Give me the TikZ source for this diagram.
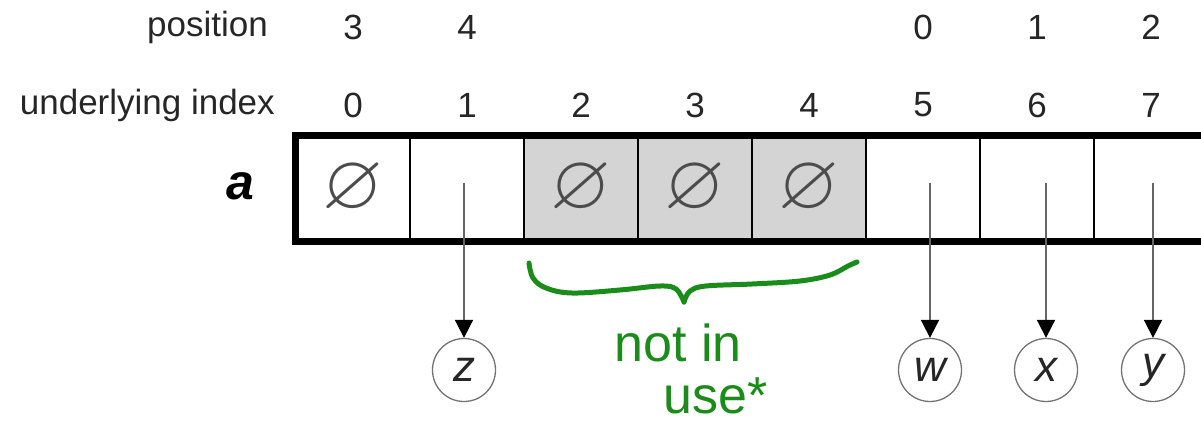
\documentclass[tikz,border=0pt]{standalone}
\usepackage{amssymb}
\usepackage{fontspec}
\setmainfont{Liberation Sans}
\usetikzlibrary{arrows.meta,calc}
\definecolor{ink}{RGB}{25,140,25}
\newcommand{\nullsym}{\scalebox{7.8}{$\varnothing$}}
\begin{document}
\begin{tikzpicture}[x=1pt,y=-1pt,
  lbl/.style={font=\fontsize{35}{38}\selectfont, text=black!85, inner sep=0},
  cell/.style={draw=black, line width=1.6pt, minimum width=114pt, minimum height=105pt, inner sep=0, anchor=center, text=black!70},
  usedcell/.style={cell, fill=white},
  freecell/.style={cell, fill=black!17},
  elem/.style={circle, draw=black!55, line width=1.3pt, minimum size=63pt, inner sep=0, font=\itshape\fontsize{44}{48}\selectfont, text=black!85},
  ptr/.style={draw=black!60, line width=1.8pt, -{Triangle[length=18pt,width=18pt,color=black]}},
  hand/.style={draw=ink, line width=5pt, line cap=round, line join=round},
  handtext/.style={text=ink, font=\fontsize{52}{56}\selectfont, inner sep=0}
]
\useasboundingbox (0,0) rectangle (1201,426);
\clip (0,0) rectangle (1201,426);

% cells
\node[usedcell] (c0) at (353,188.5) {\nullsym};
\node[usedcell] (c1) at (467,188.5) {};
\node[freecell] (c2) at (581,188.5) {\nullsym};
\node[freecell] (c3) at (695,188.5) {\nullsym};
\node[freecell] (c4) at (809,188.5) {\nullsym};
\node[usedcell] (c5) at (923,188.5) {};
\node[usedcell] (c6) at (1037,188.5) {};
\node[usedcell] (c7) at (1151,188.5) {};
\draw[line width=7pt] (c0.north west) rectangle (c7.south east);

% array name
\node[font=\bfseries\itshape\fontsize{50}{54}\selectfont, inner sep=0] (aname) at (240,186) {a};

% row labels
\node[lbl, anchor=east] (poslbl) at (268,27) {position};
\node[lbl, anchor=east] (idxlbl) at (275,105) {underlying index};

% position numbers
\node[lbl] (p0) at (c0 |- poslbl) {3};
\node[lbl] (p1) at (c1 |- poslbl) {4};
\node[lbl] (p5) at (c5 |- poslbl) {0};
\node[lbl] (p6) at (c6 |- poslbl) {1};
\node[lbl] (p7) at (c7 |- poslbl) {2};

% index numbers
\foreach \i in {0,...,7} {
  \node[lbl] (i\i) at (c\i |- idxlbl) {\i};
}

% elements
\node[elem] (z) at (464,370) {z};
\node[elem] (w) at (930,370) {w};
\node[elem] (xx) at (1046,370) {x};
\node[elem] (yy) at (1153,370) {y};

\draw[ptr] ($(z |- c1.center)+(0,-6)$) -- (z.north);
\draw[ptr] ($(w |- c5.center)+(0,-6)$) -- (w.north);
\draw[ptr] ($(xx |- c6.center)+(0,-6)$) -- (xx.north);
\draw[ptr] ($(yy |- c7.center)+(0,-6)$) -- (yy.north);

% handwritten brace
\draw[hand] plot[smooth, tension=0.6] coordinates {(529,263) (533,278) (546,288) (572,293) (620,290) (660,286) (676,289) (684,302)};
\draw[hand] plot[smooth, tension=0.6] coordinates {(684,302) (690,291) (706,286) (752,284) (800,281) (830,275) (848,266) (857,262)};

\node[handtext] (note1) at (678,343) {not in};
\node[handtext] (note2) at (716,396) {use*};
\end{tikzpicture}
\end{document}
